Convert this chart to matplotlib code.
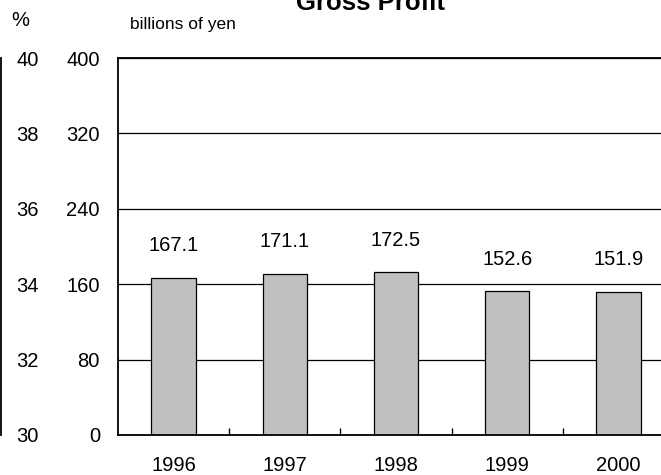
import matplotlib
matplotlib.use('Agg')
from matplotlib import pyplot as plt
import numpy as np

plt.rcParams['font.family'] = ['Liberation Sans', 'DejaVu Sans']

years = ['1996', '1997', '1998', '1999', '2000']
gross_profit = [167.1, 171.1, 172.5, 152.6, 151.9]
yen_ticks = [0, 80, 160, 240, 320, 400]
pct_ticks = [30, 32, 34, 36, 38, 40]

W, H = 661, 475


def main():
    fig = plt.figure(figsize=(W / 100, H / 100), dpi=100)

    # main axes, runs past the right edge of the picture like the original
    ax = fig.add_axes([118 / W, 40 / H, 556 / W, 377 / H])
    x = np.arange(len(years))
    ax.bar(x, gross_profit, width=0.4, color='#c0c0c0', edgecolor='black',
           linewidth=0.9, zorder=2)
    for xi, v in zip(x, gross_profit):
        ax.annotate('%.1f' % v, (xi, v), xytext=(0, 23), textcoords='offset points',
                    ha='center', va='center', fontsize=14.5)

    ax.set_xlim(-0.5, len(years) - 0.5)
    ax.set_ylim(0, 400)
    ax.set_yticks(yen_ticks)
    ax.set_yticklabels([str(t) for t in yen_ticks], fontsize=14.5)
    ax.tick_params(axis='y', length=0, pad=13)
    ax.set_xticks(x)
    ax.set_xticklabels(years, fontsize=14.5)
    ax.tick_params(axis='x', which='major', length=0, pad=15)
    ax.set_xticks(np.arange(0.5, len(years) - 1, 1), minor=True)
    ax.tick_params(axis='x', which='minor', direction='in', length=5, width=1)
    ax.grid(axis='y', color='black', linewidth=0.9)
    ax.set_axisbelow(True)
    for s in ['left', 'bottom', 'top']:
        ax.spines[s].set_linewidth(1.3)
    ax.spines['right'].set_visible(False)

    # percent axis on the far left
    ax2 = fig.add_axes([1 / W, 40 / H, 11 / W, 377 / H])
    ax2.set_ylim(30, 40)
    ax2.set_yticks(pct_ticks)
    ax2.set_yticklabels([str(t) for t in pct_ticks], fontsize=14.5)
    ax2.yaxis.tick_right()
    ax2.tick_params(axis='y', length=0, pad=3)
    ax2.set_xticks([])
    ax2.patch.set_visible(False)
    for s in ['right', 'bottom', 'top']:
        ax2.spines[s].set_visible(False)
    ax2.spines['left'].set_linewidth(1.3)

    fig.text(20 / W, 1 - 20 / H, '%', ha='center', va='center', fontsize=14.5)
    fig.text(130 / W, 1 - 24 / H, 'billions of yen', ha='left', va='center', fontsize=12.5)
    fig.text(370 / W, 1 - 10 / H, 'Gross Profit', ha='center', va='baseline',
             fontsize=18.5, fontweight='bold')

    fig.savefig('out.png', dpi=100)


if __name__ == '__main__':
    main()
